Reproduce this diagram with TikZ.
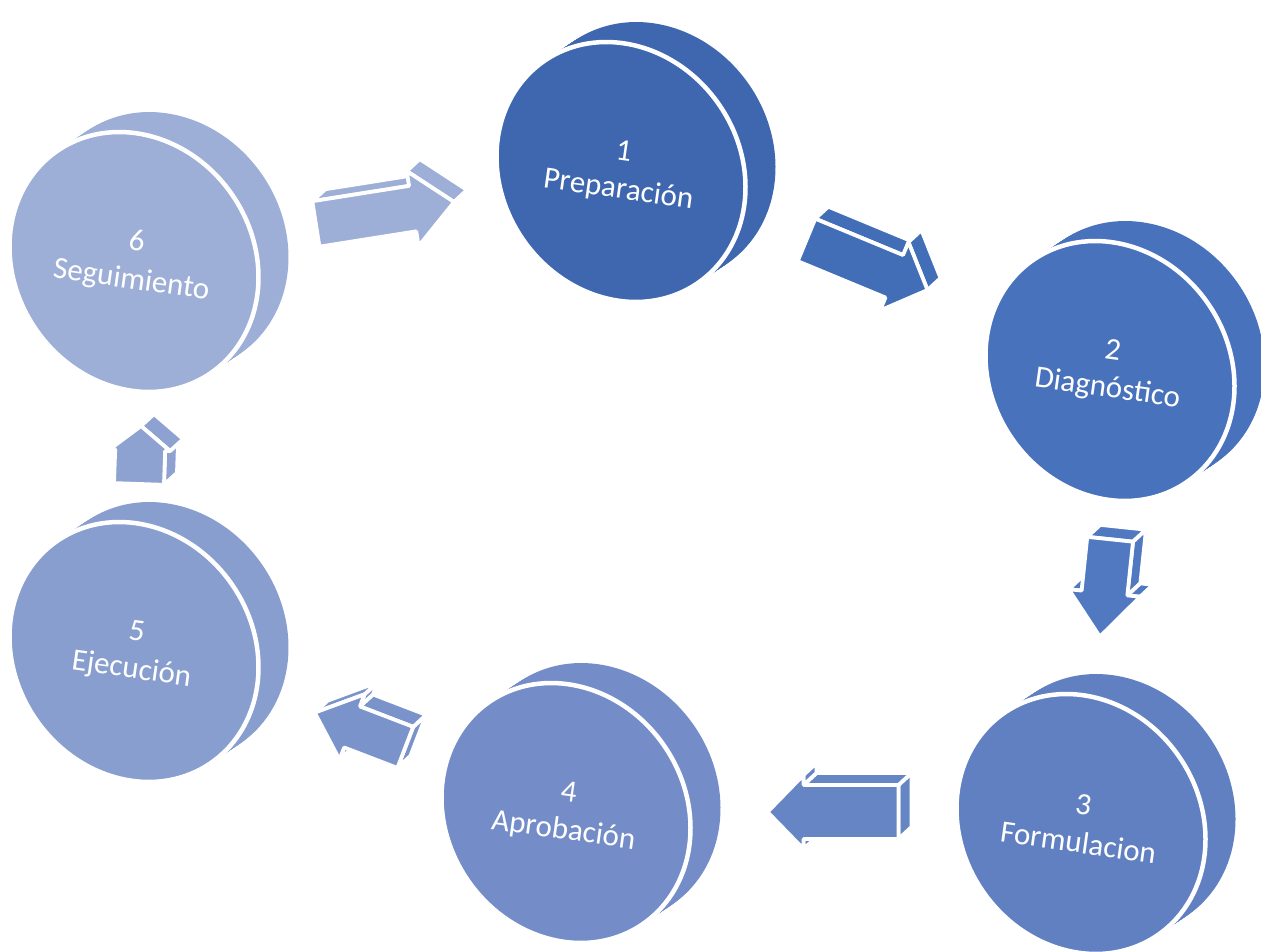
\documentclass[tikz,border=0pt]{standalone}
\usepackage{fontspec}
\setmainfont{Carlito}
\usetikzlibrary{calc}
\definecolor{cA}{RGB}{62,103,176}
\definecolor{cB}{RGB}{73,114,188}
\definecolor{cC}{RGB}{97,128,194}
\definecolor{cD}{RGB}{116,141,200}
\definecolor{cE}{RGB}{135,158,207}
\definecolor{cF}{RGB}{157,174,215}
\definecolor{aFA}{RGB}{157,174,215}
\definecolor{aAB}{RGB}{66,109,183}
\definecolor{aBC}{RGB}{80,121,193}
\definecolor{aCD}{RGB}{102,133,197}
\definecolor{aDE}{RGB}{122,147,203}
\definecolor{aEF}{RGB}{142,162,210}
\pgfdeclarelayer{bg}
\pgfsetlayers{bg,main}
\tikzset{
  stagetext/.style={text=white, align=center, font=\fontsize{31}{38}\selectfont, rotate=-8, inner sep=0pt},
  whiteedge/.style={draw=white, line width=3.8pt, line join=round},
  discedge/.style={draw=white, line width=4.5pt},
}
% disc: union of shifted ellipses, front face with white rim
\newcommand{\discface}[2]{%
  \foreach \k in {16,15,...,1}{%
    \fill[#2, shift={(#1)}, shift={({30*\k/16},{-20*\k/16})}, rotate=-55] (0,0) ellipse [x radius=135, y radius=119];
  }%
  \fill[#2, discedge, shift={(#1)}, rotate=-55] (0,0) ellipse [x radius=135, y radius=119];
}
\def\edx{13}
\def\edy{-12}
\pgfmathsetmacro{\extang}{atan2(12,13)}
% side face of a block arrow, drawn only if it faces the viewer
\newcommand{\sface}[4]{%
  \pgfmathsetmacro{\fcos}{cos((#3)+(\arrang)-(\extang))}%
  \ifdim\fcos pt>0.02pt\relax
    \fill[#4, whiteedge] (#1) -- (#2) -- ($(#2)+(\edx,\edy)$) -- ($(#1)+(\edx,\edy)$) -- cycle;
  \fi}
% #1 name, #2 centre coordinate name, #3 angle, #4 length, #5 shaft half width, #6 head half width, #7 head length, #8 colour
\newcommand{\blockarrow}[8]{%
  \begin{scope}[shift={(#2)}, rotate=#3]
    \coordinate (#1t1) at ({-#4/2},{-#5});
    \coordinate (#1s1) at ({#4/2-#7},{-#5});
    \coordinate (#1b1) at ({#4/2-#7},{-#6});
    \coordinate (#1tip) at ({#4/2},0);
    \coordinate (#1b2) at ({#4/2-#7},{#6});
    \coordinate (#1s2) at ({#4/2-#7},{#5});
    \coordinate (#1t2) at ({-#4/2},{#5});
  \end{scope}
  \pgfmathsetmacro{\harg}{atan2(#7,#6)}%
  \def\arrang{#3}%
  \sface{#1t2}{#1t1}{180}{#8}%
  \sface{#1t1}{#1s1}{90}{#8}%
  \sface{#1s2}{#1t2}{-90}{#8}%
  \sface{#1s1}{#1b1}{180}{#8}%
  \sface{#1b2}{#1s2}{180}{#8}%
  \sface{#1b1}{#1tip}{\harg}{#8}%
  \sface{#1tip}{#1b2}{-\harg}{#8}%
  \fill[#8, whiteedge] (#1t1) -- (#1s1) -- (#1b1) -- (#1tip) -- (#1b2) -- (#1s2) -- (#1t2) -- cycle;
}
\begin{document}
\begin{tikzpicture}[x=1pt, y=-1pt]
\useasboundingbox (0,0) rectangle (1261,952);
\node[stagetext] (n1) at (621,172) {1\\Preparación};
\node[stagetext] (n2) at (1110,371) {2\\Diagnóstico};
\node[stagetext] (n3) at (1081,824) {3\\Formulacion};
\node[stagetext] (n4) at (566,813) {4\\Aprobación};
\node[stagetext] (n5) at (134,652) {5\\Ejecución};
\node[stagetext] (n6) at (134,262) {6\\Seguimiento};
\coordinate (m61) at ($(n6)!0.5!(n1)+(7.5,-4)$);
\coordinate (m12) at ($(n1)!0.5!(n2)+(1.5,-6.5)$);
\coordinate (m23) at ($(n2)!0.5!(n3)+(9.5,-9.5)$);
\coordinate (m34) at ($(n3)!0.5!(n4)+(9.5,-6.5)$);
\coordinate (m45) at ($(n4)!0.5!(n5)+(10,-2.5)$);
\coordinate (m56) at ($(n5)!0.5!(n6)+(6,-2)$);
\begin{pgfonlayer}{bg}
  \discface{n1}{cA}
  \discface{n2}{cB}
  \discface{n3}{cC}
  \discface{n4}{cD}
  \discface{n5}{cE}
  \discface{n6}{cF}
  \blockarrow{p}{m61}{9}{140}{23}{38}{42}{aFA}
  \blockarrow{q}{m12}{-22.5}{131}{23}{37}{36}{aAB}
  \blockarrow{r}{m23}{-96}{98}{23}{36}{44}{aBC}
  \blockarrow{s}{m34}{180}{131}{27}{37}{36}{aCD}
  \blockarrow{u}{m45}{159}{97}{22}{35}{40}{aDE}
  \blockarrow{v}{m56}{88}{58}{25}{30}{24}{aEF}
\end{pgfonlayer}
\end{tikzpicture}
\end{document}
